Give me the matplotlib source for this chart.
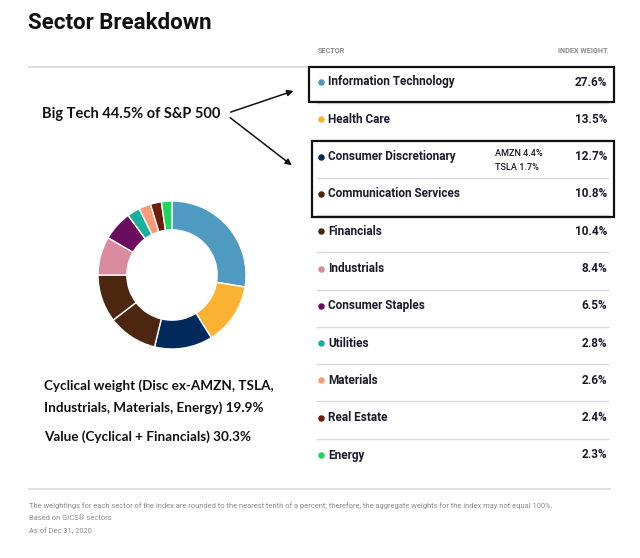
import matplotlib
matplotlib.use("Agg")
import matplotlib.pyplot as plt
from matplotlib.patches import Rectangle

# ---- data ----
sectors = ["Information Technology", "Health Care", "Consumer Discretionary",
           "Communication Services", "Financials", "Industrials",
           "Consumer Staples", "Utilities", "Materials", "Real Estate", "Energy"]
weights = [27.6, 13.5, 12.7, 10.8, 10.4, 8.4, 6.5, 2.8, 2.6, 2.4, 2.3]
colors = ["#4f9ac0", "#fbb232", "#002a5c", "#4d2610", "#4d2610", "#db8ba0",
          "#6a0d5e", "#1aae9c", "#f79a75", "#6b1e0a", "#1ed75a"]
title = "Sector Breakdown"
col_headers = ["SECTOR", "INDEX WEIGHT"]
cd_note = ["AMZN 4.4%", "TSLA 1.7%"]
bigtech_note = "Big Tech 44.5% of S&P 500"
cyclical_note = ["Cyclical weight (Disc ex-AMZN, TSLA,",
                 "Industrials, Materials, Energy) 19.9%"]
value_note = "Value (Cyclical + Financials) 30.3%"
footnotes = ["The weightings for each sector of the index are rounded to the nearest tenth of a percent; therefore, the aggregate weights for the index may not equal 100%.",
             "Based on GICS\u00ae sectors",
             "As of Dec 31, 2020"]

W, H = 640, 558
fig = plt.figure(figsize=(W / 100, H / 100), dpi=100)
fig.patch.set_facecolor("white")
ax = fig.add_axes([0, 0, 1, 1])
ax.set_xlim(0, W)
ax.set_ylim(H, 0)
ax.axis("off")

TXT = "#1b1b2b"
GRAY = "#8a8a8a"
LINE = "#d9d9d9"
NOTE_FONT = ["Lato", "DejaVu Sans"]

# title
ax.text(28, 23, title, fontsize=16, fontweight="bold", family="Roboto",
        color="#111111", va="center", ha="left")

# headers
ax.text(318, 51, col_headers[0], fontsize=5.2, color=GRAY, family="Roboto",
        fontweight="bold", va="center", ha="left")
ax.text(607, 51, col_headers[1], fontsize=5.2, color=GRAY, family="Roboto",
        fontweight="bold", va="center", ha="right")
ax.plot([29, 610], [67, 67], color=LINE, lw=1.2)

# table rows
y0, step = 82, 37.3
for i, (s, w, c) in enumerate(zip(sectors, weights, colors)):
    y = y0 + i * step
    ax.scatter([321], [y], s=22, color=c, zorder=3, linewidths=0)
    ax.text(328, y, s, fontsize=8.5, color=TXT, family="Roboto",
            fontweight="bold", va="center", ha="left")
    ax.text(607, y, f"{w:.1f}%", fontsize=8.5, color=TXT, family="Roboto",
            fontweight="bold", va="center", ha="right")
    if i < len(sectors) - 1:
        ax.plot([317, 608], [y + 21, y + 21], color=LINE, lw=1.0)

# AMZN/TSLA note
ax.text(495, y0 + 2 * step - 3, cd_note[0], fontsize=6.6, color=TXT,
        family="Roboto", fontweight="medium", va="center", ha="left")
ax.text(495, y0 + 2 * step + 11, cd_note[1], fontsize=6.6, color=TXT,
        family="Roboto", fontweight="medium", va="center", ha="left")

# highlight boxes
ax.add_patch(Rectangle((309, 67), 305, 35, fill=False, ec="#111111", lw=1.6, zorder=4))
ax.add_patch(Rectangle((312, 141), 302, 76, fill=False, ec="#111111", lw=1.6, zorder=4))

# Big tech annotation
ax.text(42, 114, bigtech_note, fontsize=10.5, color="#111111", family=NOTE_FONT,
        fontweight="bold", va="center", ha="left")
arrow_kw = dict(arrowstyle="-|>", color="#111111", lw=1.1, mutation_scale=9)
ax.annotate("", xy=(296, 90), xytext=(228, 113), arrowprops=arrow_kw)
ax.annotate("", xy=(294, 167), xytext=(228, 116), arrowprops=arrow_kw)

# lower-left notes
for yy, t in zip([386, 408, 437], cyclical_note + [value_note]):
    ax.text(44, yy, t, fontsize=9.7, color="#111111", family=NOTE_FONT,
            fontweight="bold", va="center", ha="left")

# footer
ax.plot([29, 610], [489, 489], color=LINE, lw=1.2)
for k, f in enumerate(footnotes):
    ax.text(29, 506 + k * 12.5, f, fontsize=5.45, color=GRAY, family="Roboto",
            va="center", ha="left")

# donut
cx, cy, R = 172, 275, 74
dax = fig.add_axes([(cx - R) / W, 1 - (cy + R) / H, 2 * R / W, 2 * R / H])
dax.pie(weights, colors=colors, startangle=90, counterclock=False,
        wedgeprops=dict(width=0.39, edgecolor="white", linewidth=1.0))
dax.set_xlim(-1, 1)
dax.set_ylim(-1, 1)
dax.set_aspect("equal")
dax.axis("off")

fig.savefig("out.png", dpi=100, facecolor="white")
